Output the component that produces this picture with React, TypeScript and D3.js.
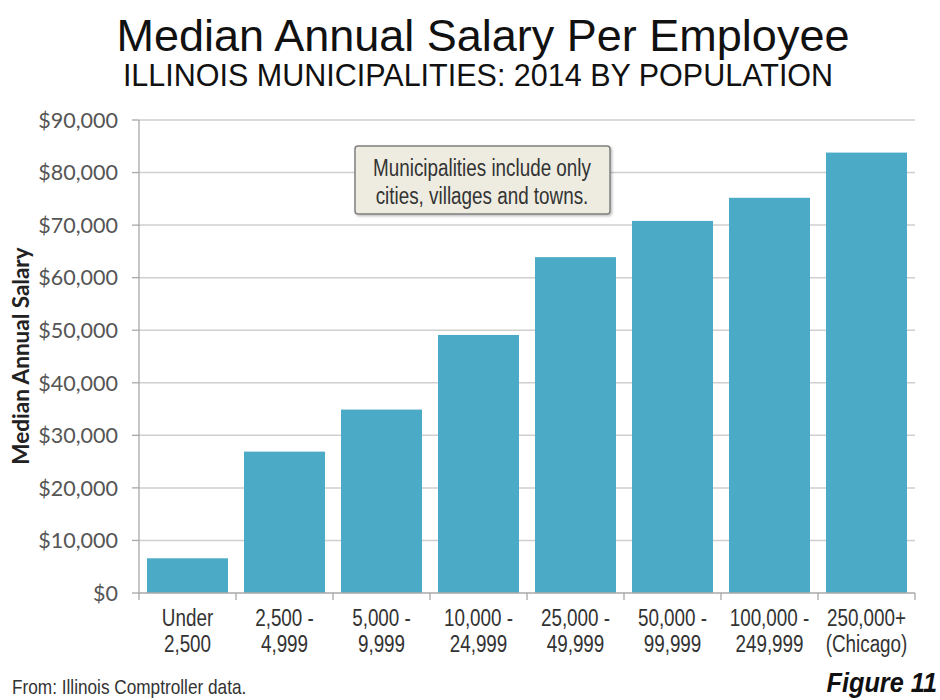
import React from "react";
import * as d3 from "d3";

const categoriesLine1 = ["Under", "2,500 -", "5,000 -", "10,000 -", "25,000 -", "50,000 -", "100,000 -", "250,000+"];
const categoriesLine2 = ["2,500", "4,999", "9,999", "24,999", "49,999", "99,999", "249,999", "(Chicago)"];
const salaries = [6600, 26900, 34900, 49100, 63900, 70800, 75200, 83800];
const yTicks = [0, 10000, 20000, 30000, 40000, 50000, 60000, 70000, 80000, 90000];

const title = "Median Annual Salary Per Employee";
const subtitle = "ILLINOIS MUNICIPALITIES: 2014 BY POPULATION";
const yLabel = "Median Annual Salary";
const noteLines = ["Municipalities include only", "cities, villages and towns."];
const source = "From: Illinois Comptroller data.";
const figure = "Figure 11";

const W = 940;
const H = 700;
const left = 139;
const right = 915;
const top = 120;
const bottom = 593;
const NARROW = 0.82;

export default function App() {
  const keys = categoriesLine1.map((_, i) => String(i));
  const x = d3.scaleBand<string>().domain(keys).range([left, right]).paddingInner(0.165).paddingOuter(0.0825);
  const y = d3.scaleLinear().domain([0, 90000]).range([bottom, top]);
  const fmt = (v: number) => "$" + d3.format(",")(v);
  const step = x.step();
  const sans = "'Liberation Sans', Arial, sans-serif";
  const calib = "Lato, 'Open Sans', sans-serif";

  const narrowText = (tx: number, ty: number, s: string, size: number, anchor: string, key?: string | number) => (
    <text key={key} transform={`translate(${tx},${ty}) scale(${NARROW},1)`} textAnchor={anchor} fontFamily={sans} fontSize={size} fill="#333">{s}</text>
  );

  return (
    <svg width={W} height={H} viewBox={`0 0 ${W} ${H}`} style={{ position: "absolute", left: 0, top: 0, background: "#fff" }}>
      <defs>
        <filter id="shadow" x="-10%" y="-10%" width="130%" height="140%">
          <feDropShadow dx="1.5" dy="1.5" stdDeviation="1.2" floodColor="#000" floodOpacity="0.25" />
        </filter>
      </defs>
      <rect x={0} y={0} width={W} height={H} fill="#fff" />
      <text x={483} y={51} textAnchor="middle" fontFamily={sans} fontSize={45} fill="#111">{title}</text>
      <text x={478} y={86} textAnchor="middle" fontFamily={sans} fontSize={30.5} fill="#111">{subtitle}</text>

      {/* gridlines */}
      {yTicks.map((t) => (
        <g key={t}>
          {t > 0 && <line x1={left} x2={right} y1={y(t)} y2={y(t)} stroke="#cfcfcf" strokeWidth={1.5} />}
          <line x1={left - 7} x2={left} y1={y(t)} y2={y(t)} stroke="#a8a8a8" strokeWidth={1.3} />
          <text x={118} y={y(t)} dy="0.36em" textAnchor="end" fontFamily={calib} fontSize={21.5} fill="#555">{fmt(t)}</text>
        </g>
      ))}

      {/* bars */}
      {salaries.map((v, i) => (
        <rect key={i} x={x(keys[i])} y={y(v)} width={x.bandwidth()} height={bottom - y(v)} fill="#4BAAC6" />
      ))}

      {/* axes */}
      <line x1={left} x2={left} y1={top} y2={bottom} stroke="#a8a8a8" strokeWidth={1.3} />
      <line x1={left} x2={right} y1={bottom} y2={bottom} stroke="#a8a8a8" strokeWidth={1.3} />
      {d3.range(keys.length + 1).map((i) => (
        <line key={i} x1={left + i * step} x2={left + i * step} y1={bottom} y2={bottom + 7} stroke="#a8a8a8" strokeWidth={1.3} />
      ))}
      {keys.map((k, i) => {
        const cx = (x(k) as number) + x.bandwidth() / 2;
        return (
          <g key={k}>
            {narrowText(cx, 626, categoriesLine1[i], 23, "middle")}
            {narrowText(cx, 652, categoriesLine2[i], 23, "middle")}
          </g>
        );
      })}

      <text transform={`translate(29,356) rotate(-90)`} textAnchor="middle" fontFamily={calib} fontWeight={700} fontSize={22.5} fill="#222">{yLabel}</text>

      {/* note box */}
      <rect x={355} y={146} width={255} height={68} rx={3} fill="#EEECE1" stroke="#7f7f7f" strokeWidth={1.5} filter="url(#shadow)" />
      {narrowText(482, 176, noteLines[0], 23, "middle")}
      {narrowText(482, 204, noteLines[1], 23, "middle")}

      {narrowText(12, 694, source, 21, "start")}
      <text transform={`translate(937,692) scale(0.92,1)`} textAnchor="end" fontFamily={sans} fontSize={27.5} fontWeight={700} fontStyle="italic" fill="#111">{figure}</text>
    </svg>
  );
}
